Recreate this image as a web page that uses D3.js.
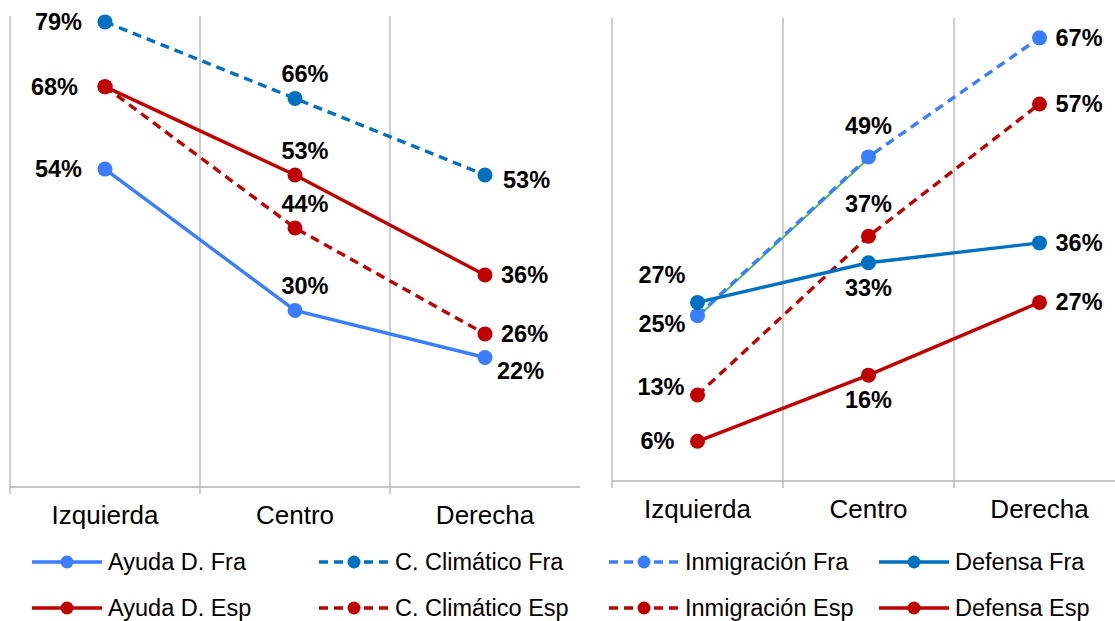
<!DOCTYPE html>
<html>
<head>
<meta charset="utf-8">
<script src="https://cdn.jsdelivr.net/npm/d3@7"></script>
<style>
  body { margin: 0; background: #fff; }
  text { font-family: "Liberation Sans", Arial, sans-serif; }
</style>
</head>
<body>
<div id="chart"></div>
<script>
// categories
var categories = ["Izquierda", "Centro", "Derecha"];

// left panel series
var ayudaFra = [54, 30, 22];
var climaFra = [79, 66, 53];
var ayudaEsp = [68, 53, 36];
var climaEsp = [68, 44, 26];

// right panel series
var inmigFra = [25, 49, 67];
var defensaFra = [27, 33, 36];
var inmigEsp = [13, 37, 57];
var defensaEsp = [6, 16, 27];
var inmigFraShadow = [25, 49]; // thin green line showing under the first segment

var lightBlue = "#3a7dff", darkBlue = "#0070c0", red = "#c00000";

var W = 1115, H = 621;
var svg = d3.select("#chart").append("svg")
    .attr("width", W).attr("height", H);

// label placement per point: l = left, a = above, b = below, r = right
var panels = [
  {
    x0: 10, x1: 580, yTop: 16, yBot: 487, max: 80,
    series: [
      {name: "C. Climático Esp", vals: climaEsp, color: red, dash: true, pos: ["", "a", "r"]},
      {name: "Ayuda D. Fra", vals: ayudaFra, color: lightBlue, dash: false, pos: ["l", "a", "rb"]},
      {name: "Ayuda D. Esp", vals: ayudaEsp, color: red, dash: false, pos: ["l2", "a", "r"]},
      {name: "C. Climático Fra", vals: climaFra, color: darkBlue, dash: true, pos: ["l", "a", "r2"]}
    ]
  },
  {
    x0: 612, x1: 1125, yTop: 18, yBot: 481, max: 70,
    shadow: inmigFraShadow,
    series: [
      {name: "Defensa Esp", vals: defensaEsp, color: red, dash: false, pos: ["l", "b", "r"]},
      {name: "Inmigración Esp", vals: inmigEsp, color: red, dash: true, pos: ["lu", "a2", "r"]},
      {name: "Inmigración Fra", vals: inmigFra, color: lightBlue, dash: true, pos: ["lb", "ac", "r"]},
      {name: "Defensa Fra", vals: defensaFra, color: darkBlue, dash: false, pos: ["la", "b", "r"]}
    ]
  }
];

var offsets = {
  l:  [-23, 8, "end"],
  l2: [-27, 8, "end"],
  lu: [-13, 0, "end"],
  lb: [-12, 16, "end"],
  la: [-12, -19, "end"],
  a:  [10, -16, "middle"],
  ac: [0, -23, "middle"],
  a2: [0, -24, "middle"],
  b:  [0, 33, "middle"],
  r:  [16, 8, "start"],
  r2: [18, 13, "start"],
  rb: [12, 22, "start"]
};

panels.forEach(function(p) {
  var x = d3.scaleBand().domain(categories).range([p.x0, p.x1]);
  var y = d3.scaleLinear().domain([0, p.max]).range([p.yBot, p.yTop]);
  var g = svg.append("g");

  // vertical gridlines at band boundaries
  var bounds = categories.map(function(c) { return x(c); });
  g.selectAll(".grid").data(bounds).enter().append("line")
    .attr("x1", d => d).attr("x2", d => d)
    .attr("y1", p.yTop).attr("y2", p.yBot + 7)
    .attr("stroke", "#b3b3b3").attr("stroke-width", 1.3);

  // x axis line
  g.append("line")
    .attr("x1", p.x0).attr("x2", p.x1)
    .attr("y1", p.yBot).attr("y2", p.yBot)
    .attr("stroke", "#b3b3b3").attr("stroke-width", 1.3);

  // category labels
  g.selectAll(".cat").data(categories).enter().append("text")
    .attr("x", d => x(d) + x.bandwidth() / 2)
    .attr("y", p.yBot + 37)
    .attr("text-anchor", "middle")
    .attr("font-size", 26)
    .attr("fill", "#000")
    .text(d => d);

  var line = d3.line()
    .x((d, i) => x(categories[i]) + x.bandwidth() / 2)
    .y(d => y(d));

  if (p.shadow) {
    g.append("path").datum(p.shadow)
      .attr("d", line)
      .attr("transform", "translate(1,0.5)")
      .attr("fill", "none").attr("stroke", "#4cc04c").attr("stroke-width", 2);
  }

  p.series.forEach(function(s) {
    g.append("path").datum(s.vals)
      .attr("d", line)
      .attr("fill", "none")
      .attr("stroke", s.color)
      .attr("stroke-width", 3.4)
      .attr("stroke-dasharray", s.dash ? "9,6" : null);

    g.selectAll(null).data(s.vals).enter().append("circle")
      .attr("cx", (d, i) => x(categories[i]) + x.bandwidth() / 2)
      .attr("cy", d => y(d))
      .attr("r", 7.5)
      .attr("fill", s.color);

    s.vals.forEach(function(v, i) {
      var o = offsets[s.pos[i]];
      if (!o) return;
      var cx = x(categories[i]) + x.bandwidth() / 2, cy = y(v);
      g.append("text")
        .attr("x", cx + o[0]).attr("y", cy + o[1])
        .attr("text-anchor", o[2])
        .attr("font-size", 23.5)
        .attr("font-weight", "bold")
        .attr("fill", "#000")
        .text(v + "%");
    });
  });
});

// legend
var legendItems = [
  {name: "Ayuda D. Fra", color: lightBlue, dash: false, col: 0, row: 0},
  {name: "C. Climático Fra", color: darkBlue, dash: true, col: 1, row: 0},
  {name: "Inmigración Fra", color: lightBlue, dash: true, col: 2, row: 0},
  {name: "Defensa Fra", color: darkBlue, dash: false, col: 3, row: 0},
  {name: "Ayuda D. Esp", color: red, dash: false, col: 0, row: 1},
  {name: "C. Climático Esp", color: red, dash: true, col: 1, row: 1},
  {name: "Inmigración Esp", color: red, dash: true, col: 2, row: 1},
  {name: "Defensa Esp", color: red, dash: false, col: 3, row: 1}
];
var colX = [32, 319, 609, 879];
var rowY = [562, 608];

var leg = svg.append("g");
legendItems.forEach(function(d) {
  var lx = colX[d.col], ly = rowY[d.row];
  leg.append("line")
    .attr("x1", lx).attr("x2", lx + 70)
    .attr("y1", ly).attr("y2", ly)
    .attr("stroke", d.color).attr("stroke-width", 3.4)
    .attr("stroke-dasharray", d.dash ? "9,6" : null);
  leg.append("circle")
    .attr("cx", lx + 35).attr("cy", ly).attr("r", 6.5)
    .attr("fill", d.color);
  leg.append("text")
    .attr("x", lx + 76).attr("y", ly + 8)
    .attr("font-size", 23.5).attr("fill", "#000")
    .text(d.name);
});
</script>
</body>
</html>
